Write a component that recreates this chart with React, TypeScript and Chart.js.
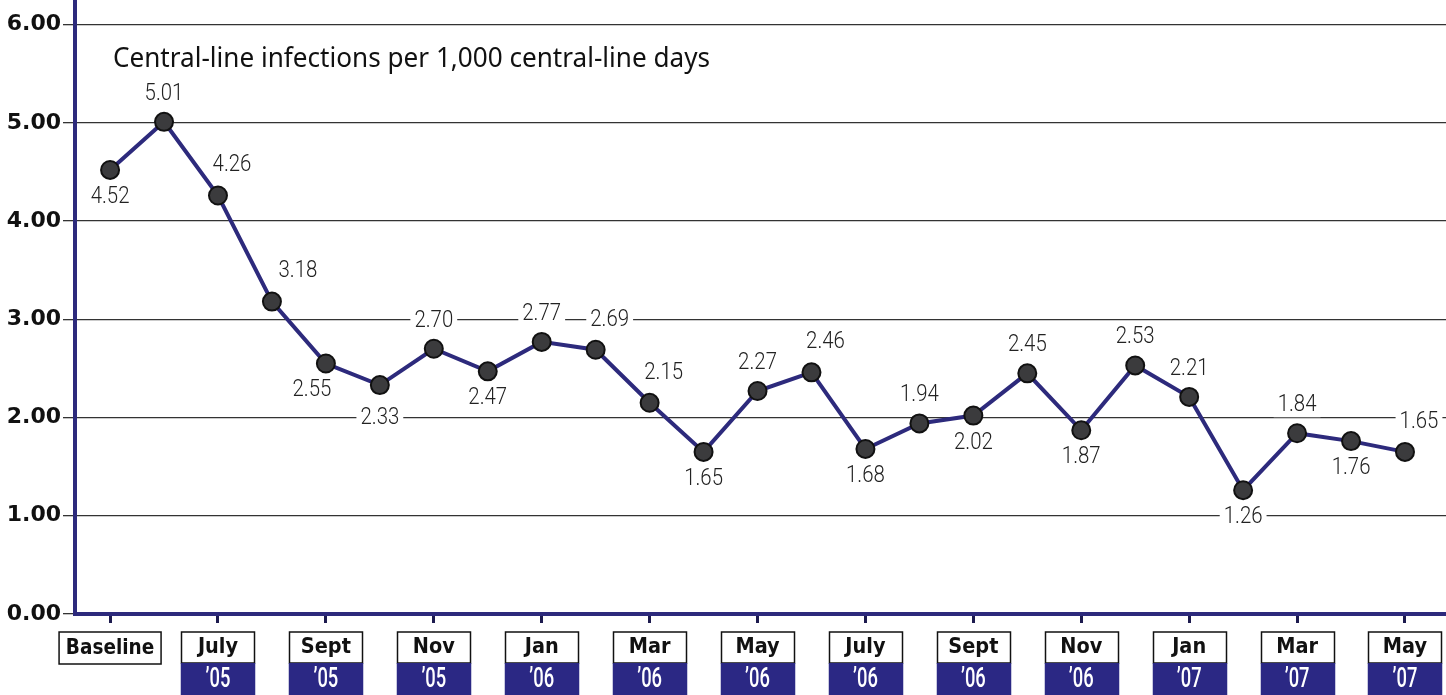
import React, { useEffect, useRef } from "react";
import { Chart, registerables } from "chart.js";

Chart.register(...registerables);

// ---- data ----
const periods = [
  "Baseline", "June '05", "July '05", "Aug '05", "Sept '05", "Oct '05", "Nov '05", "Dec '05",
  "Jan '06", "Feb '06", "Mar '06", "Apr '06", "May '06", "June '06", "July '06", "Aug '06",
  "Sept '06", "Oct '06", "Nov '06", "Dec '06", "Jan '07", "Feb '07", "Mar '07", "Apr '07", "May '07",
];
const rates = [
  4.52, 5.01, 4.26, 3.18, 2.55, 2.33, 2.70, 2.47, 2.77, 2.69, 2.15, 1.65, 2.27,
  2.46, 1.68, 1.94, 2.02, 2.45, 1.87, 2.53, 2.21, 1.26, 1.84, 1.76, 1.65,
];
const tickMonths = ["Baseline", "July", "Sept", "Nov", "Jan", "Mar", "May", "July", "Sept", "Nov", "Jan", "Mar", "May"];
const tickYears = ["", "’05", "’05", "’05", "’06", "’06", "’06", "’06", "’06", "’06", "’07", "’07", "’07"];
const yTickValues = [0, 1, 2, 3, 4, 5, 6];
const titleText = "Central-line infections per 1,000 central-line days";
// where each value label sits relative to its point
const labelPlacement = [
  "below", "above", "aboveRight", "aboveRightFar", "belowLeft", "belowFar", "above", "below",
  "above", "aboveRight", "aboveRight", "below", "above", "aboveRight", "below", "above",
  "below", "above", "below", "above", "above", "below", "above", "below", "aboveRight",
];

const NAVY = "#2b2884";
const LINE = "#2d2a7c";

const offsets: Record<string, [number, number]> = {
  below: [0, 27],
  belowLeft: [-14, 27],
  belowFar: [0, 33],
  above: [0, -28],
  aboveRight: [14, -30],
  aboveRightFar: [26, -31],
};

function drawScaled(ctx: CanvasRenderingContext2D, text: string, x: number, y: number, sx: number) {
  ctx.save();
  ctx.translate(x, y);
  ctx.scale(sx, 1);
  ctx.fillText(text, 0, 0);
  ctx.restore();
}

const valueLabelPlugin = {
  id: "valueLabels",
  beforeDatasetsDraw(chart: any) {
    const ctx: CanvasRenderingContext2D = chart.ctx;
    const xs = chart.scales.x;
    const ys = chart.scales.y;
    ctx.save();
    ctx.font = "300 24px Roboto, 'DejaVu Sans', sans-serif";
    ctx.textAlign = "center";
    ctx.textBaseline = "middle";
    const sx = 0.85;
    rates.forEach((v, i) => {
      const [dx, dy] = offsets[labelPlacement[i]] || [0, -28];
      const x = xs.getPixelForValue(i) + dx;
      const y = ys.getPixelForValue(v) + dy;
      const t = v.toFixed(2);
      const w = ctx.measureText(t).width * sx;
      ctx.fillStyle = "#ffffff";
      ctx.fillRect(x - w / 2 - 4, y - 12, w + 8, 24);
      ctx.fillStyle = "#222222";
      drawScaled(ctx, t, x, y, sx);
    });
    ctx.restore();
  },
};

const axisBoxPlugin = {
  id: "axisBoxes",
  afterDraw(chart: any) {
    const ctx: CanvasRenderingContext2D = chart.ctx;
    const xs = chart.scales.x;
    ctx.save();
    // title
    ctx.font = "28px 'Noto Sans', 'Open Sans', sans-serif";
    ctx.textAlign = "left";
    ctx.textBaseline = "alphabetic";
    ctx.fillStyle = "#111";
    const tw = ctx.measureText(titleText).width;
    drawScaled(ctx, titleText, 113, 67, 597 / tw);

    ctx.textAlign = "center";
    ctx.textBaseline = "middle";
    tickMonths.forEach((m, k) => {
      const cx = xs.getPixelForValue(k * 2);
      if (!tickYears[k]) {
        const bw = 102;
        ctx.fillStyle = "#fff";
        ctx.fillRect(cx - bw / 2, 632, bw, 32);
        ctx.strokeStyle = "#111";
        ctx.lineWidth = 1.5;
        ctx.strokeRect(cx - bw / 2, 632, bw, 32);
        ctx.fillStyle = "#111";
        ctx.font = "bold 21px 'DejaVu Sans', sans-serif";
        drawScaled(ctx, m, cx, 649, 0.88);
      } else {
        const bw = 73;
        const left = Math.round(cx - bw / 2) + 0.5;
        ctx.fillStyle = "#fff";
        ctx.fillRect(left, 632, bw, 31);
        ctx.strokeStyle = "#111";
        ctx.lineWidth = 1.5;
        ctx.strokeRect(left, 632, bw, 31);
        ctx.fillStyle = NAVY;
        ctx.fillRect(left - 0.75, 663, bw + 1.5, 40);
        ctx.fillStyle = "#111";
        ctx.font = "bold 21px 'DejaVu Sans', sans-serif";
        drawScaled(ctx, m, cx, 648, 0.92);
        ctx.fillStyle = "#fff";
        ctx.font = "500 27px Roboto, 'DejaVu Sans', sans-serif";
        drawScaled(ctx, tickYears[k], cx, 680, 0.68);
      }
    });
    ctx.restore();
  },
};

export default function App() {
  const canvasRef = useRef<HTMLCanvasElement | null>(null);

  useEffect(() => {
    document.body.style.margin = "0";
    const canvas = canvasRef.current;
    if (!canvas) return;
    const chart = new Chart(canvas, {
      type: "line",
      data: {
        labels: periods,
        datasets: [
          {
            label: "Central-line infections per 1,000 central-line days",
            data: rates.map((v, i) => ({ x: i, y: v })),
            borderColor: LINE,
            borderWidth: 4,
            pointRadius: 9,
            pointHoverRadius: 9,
            pointBackgroundColor: "#3b3b3d",
            pointBorderColor: "#111111",
            pointBorderWidth: 2,
            tension: 0,
            clip: false as any,
          },
        ],
      },
      options: {
        animation: false,
        responsive: true,
        maintainAspectRatio: false,
        layout: { padding: 0, autoPadding: false },
        plugins: {
          legend: { display: false },
          tooltip: { enabled: false },
          title: { display: false },
        },
        scales: {
          x: {
            type: "linear",
            min: -0.65,
            max: 24.76,
            afterBuildTicks: (s: any) => {
              s.ticks = tickMonths.map((_, k) => ({ value: k * 2 }));
            },
            afterFit: (s: any) => {
              s.height = 81;
              s.paddingLeft = 0;
              s.paddingRight = 0;
              s.paddingTop = 0;
              s.paddingBottom = 0;
            },
            ticks: { display: false },
            grid: {
              drawOnChartArea: false,
              drawTicks: true,
              tickLength: 9,
              tickWidth: 3,
              tickColor: "#1d1b4f",
              color: "#1d1b4f",
            },
            border: { color: LINE, width: 4 },
          },
          y: {
            min: 0,
            max: 6.25,
            afterBuildTicks: (s: any) => {
              s.ticks = yTickValues.map((v) => ({ value: v }));
            },
            afterFit: (s: any) => {
              s.width = 75;
              s.paddingTop = 0;
              s.paddingBottom = 0;
              s.paddingLeft = 0;
              s.paddingRight = 0;
            },
            ticks: {
              callback: (v: any) => Number(v).toFixed(2),
              font: { family: "'DejaVu Sans', sans-serif", size: 22, weight: "bold" },
              color: "#111",
              padding: 2,
            },
            grid: {
              color: "#333",
              lineWidth: 1.3,
              tickLength: 12,
              tickColor: "#333",
            },
            border: { color: LINE, width: 4 },
          },
        },
      },
      plugins: [valueLabelPlugin, axisBoxPlugin],
    });
    return () => chart.destroy();
  }, []);

  return (
    <div style={{ position: "relative", width: "1446px", height: "695px" }}>
      <canvas ref={canvasRef} />
    </div>
  );
}
